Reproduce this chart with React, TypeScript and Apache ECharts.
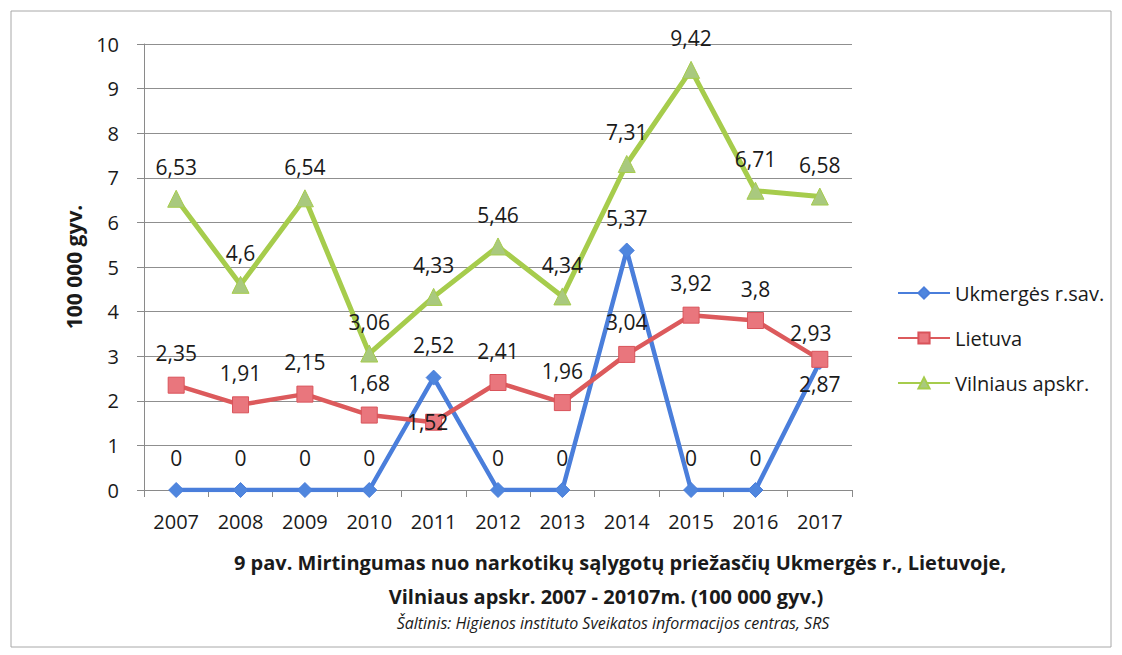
import React, { useEffect, useRef } from "react";
import * as echarts from "echarts";

const years = ["2007", "2008", "2009", "2010", "2011", "2012", "2013", "2014", "2015", "2016", "2017"];
const ukmerges = [0, 0, 0, 0, 2.52, 0, 0, 5.37, 0, 0, 2.87];
const lietuva = [2.35, 1.91, 2.15, 1.68, 1.52, 2.41, 1.96, 3.04, 3.92, 3.8, 2.93];
const vilniaus = [6.53, 4.6, 6.54, 3.06, 4.33, 5.46, 4.34, 7.31, 9.42, 6.71, 6.58];
const seriesNames = ["Ukmergės r.sav.", "Lietuva", "Vilniaus apskr."];
const titleLine1 = "9 pav. Mirtingumas nuo narkotikų sąlygotų priežasčių Ukmergės r., Lietuvoje,";
const titleLine2 = "Vilniaus apskr. 2007 - 20107m. (100 000 gyv.)";
const sourceLine = "Šaltinis: Higienos instituto Sveikatos informacijos centras, SRS";
const yAxisName = "100 000 gyv.";

const FONT = "'Open Sans', sans-serif";
const fmt = (p: any) => String(p.value).replace(".", ",");

export default function App() {
  const ref = useRef<HTMLDivElement>(null);
  useEffect(() => {
    if (!ref.current) return;
    const chart = echarts.init(ref.current, null, { renderer: "svg" });
    const labelBase = { show: true, position: "top", fontSize: 21, color: "#1a1a1a", fontFamily: FONT, formatter: fmt };
    const ukData = ukmerges.map((v, i) =>
      i === 10 ? { value: v, label: { position: "bottom", distance: 4 } } : v
    );
    const ltData = lietuva.map((v, i) => {
      if (i === 4) return { value: v, label: { position: "inside", offset: [-6, 0] } };
      if (i === 10) return { value: v, label: { distance: 7, offset: [-9, 0] } };
      return v;
    });
    chart.setOption({
      animation: false,
      textStyle: { fontFamily: FONT },
      grid: { left: 144, right: 270, top: 44, bottom: 165 },
      graphic: [
        {
          type: "rect",
          shape: { x: 11, y: 11, width: 1100, height: 636 },
          style: { fill: "none", stroke: "#a8a8a8", lineWidth: 1 },
          silent: true,
        },
        {
          type: "text",
          x: 620,
          y: 562,
          style: { text: titleLine1, fontSize: 20, fontWeight: "bold", fontFamily: FONT, fill: "#1a1a1a", textAlign: "center", textVerticalAlign: "middle" },
        },
        {
          type: "text",
          x: 606,
          y: 596,
          style: { text: titleLine2, fontSize: 20, fontWeight: "bold", fontFamily: FONT, fill: "#1a1a1a", textAlign: "center", textVerticalAlign: "middle" },
        },
        {
          type: "text",
          x: 613,
          y: 623,
          style: { text: sourceLine, fontSize: 16, fontStyle: "italic", fontFamily: FONT, fill: "#1a1a1a", textAlign: "center", textVerticalAlign: "middle" },
        },
        {
          type: "text",
          x: 74,
          y: 267,
          rotation: Math.PI / 2,
          style: { text: yAxisName, fontSize: 21, fontWeight: "bold", fontFamily: FONT, fill: "#1a1a1a", textAlign: "center", textVerticalAlign: "middle" },
        },
      ],
      legend: {
        orient: "vertical",
        left: 892,
        top: 278,
        itemWidth: 52,
        itemHeight: 14,
        itemGap: 25,
        textStyle: { fontSize: 20, color: "#1a1a1a", fontFamily: FONT },
        data: seriesNames,
      },
      xAxis: {
        type: "category",
        data: years,
        boundaryGap: true,
        axisLine: { lineStyle: { color: "#8a8a8a", width: 1 } },
        axisTick: { show: true, length: 7, lineStyle: { color: "#8a8a8a" } },
        axisLabel: { fontSize: 20, color: "#1a1a1a", fontFamily: FONT, margin: 21 },
      },
      yAxis: {
        type: "value",
        min: 0,
        max: 10,
        interval: 1,
        axisLine: { show: true, lineStyle: { color: "#8a8a8a", width: 1 } },
        axisTick: { show: true, length: 7, lineStyle: { color: "#8a8a8a" } },
        splitLine: { lineStyle: { color: "#8f8f8f", width: 1 } },
        axisLabel: { fontSize: 20, color: "#1a1a1a", fontFamily: FONT, margin: 25 },
      },
      series: [
        {
          name: seriesNames[0],
          type: "line",
          data: ukData,
          z: 3,
          symbol: "diamond",
          symbolSize: 15,
          lineStyle: { color: "#4a7edb", width: 4.5 },
          itemStyle: { color: "#4f86de", borderColor: "#4a7edb", borderWidth: 1 },
          label: { ...labelBase, distance: 14 },
        },
        {
          name: seriesNames[1],
          type: "line",
          data: ltData,
          z: 4,
          symbol: "rect",
          symbolSize: 16,
          lineStyle: { color: "#dc5a5c", width: 4.5 },
          itemStyle: { color: "#e9767d", borderColor: "#d9535a", borderWidth: 1 },
          label: { ...labelBase, distance: 13 },
        },
        {
          name: seriesNames[2],
          type: "line",
          data: vilniaus,
          z: 2,
          symbol: "triangle",
          symbolSize: 17,
          lineStyle: { color: "#a6cc4c", width: 5 },
          itemStyle: { color: "#a9c97e", borderColor: "#a6cc4c", borderWidth: 1 },
          label: { ...labelBase, distance: 12 },
        },
      ],
    });
    return () => chart.dispose();
  }, []);
  return (
    <div
      ref={ref}
      style={{ position: "fixed", left: 0, top: 0, width: 1122, height: 655, background: "#ffffff" }}
    />
  );
}
